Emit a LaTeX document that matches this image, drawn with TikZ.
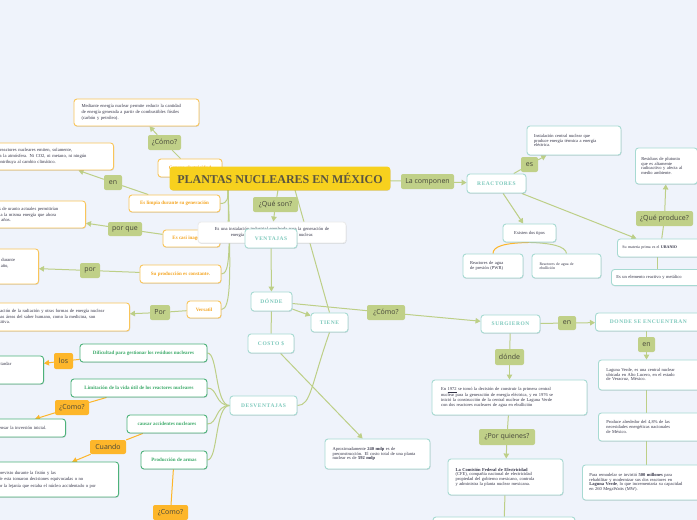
\documentclass[tikz,border=0pt]{standalone}
\usepackage{fontspec}
\setmainfont{Liberation Serif}
\newfontfamily\labfont{Open Sans}
\newfontfamily\capsfont[LetterSpace=10]{Liberation Serif}
\usetikzlibrary{arrows.meta,backgrounds,shadows}
\pgfdeclarelayer{bgfill}
\pgfsetlayers{bgfill,background,main}
\definecolor{bg}{HTML}{EFF3FB}
\definecolor{lineg}{HTML}{BDCF87}
\definecolor{labg}{HTML}{C0D088}
\definecolor{orab}{HTML}{F9C55A}
\definecolor{orat}{HTML}{F5A623}
\definecolor{oral}{HTML}{FDB62A}
\definecolor{tealb}{HTML}{A7DAD2}
\definecolor{tealt}{HTML}{7CC8BB}
\definecolor{greb}{HTML}{4DB27A}
\definecolor{gret}{HTML}{3DAA6A}
\definecolor{cen}{HTML}{F7D11E}
\definecolor{cent}{HTML}{5A5540}
\definecolor{txt}{HTML}{343447}
\definecolor{labt}{HTML}{46463A}
\begin{document}
\begin{tikzpicture}[x=1pt,y=-1pt,
  base/.style={rectangle, rounded corners=3pt, line width=0.9pt, fill=white, inner sep=0pt, align=center,
    drop shadow={shadow xshift=0.5pt, shadow yshift=-0.9pt, opacity=0.12, fill=black}},
  cenbox/.style={base, fill=cen, draw=cen, text=cent, font=\fontsize{12}{13}\selectfont\bfseries},
  obox/.style={base, draw=orab, text=orat, font=\fontsize{5}{6}\selectfont\bfseries},
  otxt/.style={base, draw=orab, text=txt, align=left, font=\fontsize{4.6}{5.7}\selectfont},
  tbox/.style={base, draw=tealb, text=tealt, font=\capsfont\fontsize{5.5}{6}\selectfont\bfseries},
  ttxt/.style={base, draw=tealb, text=txt, align=left, font=\fontsize{4.5}{4.7}\selectfont},
  ptxt/.style={base, draw=black!8, text=txt, align=center, font=\fontsize{4.6}{5.4}\selectfont},
  gbox/.style={base, draw=greb, text=gret, font=\fontsize{5}{6}\selectfont\bfseries},
  gtxt/.style={base, draw=greb, text=txt, align=left, font=\fontsize{4.6}{6.6}\selectfont},
  glab/.style={rectangle, rounded corners=2pt, fill=labg, text=labt, inner sep=0pt, font=\labfont\fontsize{7}{8}\selectfont},
  olab/.style={rectangle, rounded corners=2pt, fill=oral, text=labt, inner sep=0pt, font=\labfont\fontsize{7}{8}\selectfont},
  conn/.style={draw=lineg, line width=1pt},
  oconn/.style={draw=oral, line width=1pt},
  arr/.style={-{Triangle[length=5pt,width=5.5pt]}}
]
\begin{pgfonlayer}{bgfill}
\fill[bg] (0,0) rectangle (697,520);
\end{pgfonlayer}
\useasboundingbox (0,0) rectangle (697,520);
\clip (0,0) rectangle (697,520);

% ---- left (ventajas detail) ----
\node[obox, minimum width=64, minimum height=18] (genera) at (190,168) {Genera electricidad};
\node[cenbox, minimum width=220, minimum height=23] (central) at (280,178.5) {PLANTAS NUCLEARES EN MÉXICO};

\node[otxt, minimum width=125, minimum height=27, text width=110] (mediante) at (136.5,112.5) {Mediante energía nuclear permite reducir la cantidad\\ de energía generada a partir de combustibles fósiles\\ (carbón y petróleo).};
\node[glab, minimum width=33, minimum height=15] (como0) at (164.5,142.5) {¿Cómo?};

\node[otxt, anchor=east, minimum width=150, minimum height=27, text width=134] (b1) at (114,156.5) {Las plantas de reactores nucleares emiten, solamente,\\ vapor de agua a la atmósfera. Ni CO2, ni metano, ni ningún\\ otro gas que contribuya al cambio climático.};
\node[glab, minimum width=18, minimum height=15] (en1) at (113,182.5) {en};
\node[obox, minimum width=91, minimum height=17] (eslimpia) at (174.5,203.5) {Es limpia durante su generación};

\node[otxt, anchor=east, minimum width=116, minimum height=27, text width=100] (b2) at (86,214.5) {Las reservas de uranio actuales permitirían\\ producir toda la misma energía que ahora\\ durante 100 años.};
\node[glab, minimum width=34, minimum height=14] (porque) at (125,229) {por que};
\node[obox, minimum width=57, minimum height=17] (escasi) at (191.5,238.5) {Es casi inagotable};

\node[otxt, anchor=east, minimum width=120, minimum height=35, text width=104] (b3) at (39,266.5) {Genera electricidad de forma continua, durante\\ las 24 horas del día, todos los días del año,\\ sin interrupciones.};
\node[glab, minimum width=20, minimum height=15] (por1) at (90,270.5) {por};
\node[obox, minimum width=81, minimum height=18] (suprod) at (180.5,274) {Su producción es constante.};

\node[otxt, anchor=east, minimum width=153, minimum height=28, text width=137] (b4) at (130,317) {La utilización de la radiación y otras formas de energía nuclear\\ en muchas áreas del saber humano, como la medicina, son\\ muy positiva.};
\node[glab, minimum width=20, minimum height=15] (por2) at (160,312.5) {Por};
\node[obox, minimum width=34, minimum height=17] (versatil) at (204,309.5) {Versatil};

% ---- center ----
\node[glab, minimum width=45, minimum height=15] (queson) at (275.5,204.5) {¿Qué son?};
\node[ptxt, minimum width=148, minimum height=21, text width=140] (def) at (272,232.5) {Es una instalación industrial empleada para la generación de\\ energía eléctrica a partir de energía nuclear.};
\node[tbox, minimum width=52, minimum height=19] (ventajas) at (271,238.5) {VENTAJAS};
\node[tbox, minimum width=41, minimum height=19] (donde) at (271.5,301.5) {DÓNDE};
\node[tbox, minimum width=37, minimum height=19] (tiene) at (329.5,322.5) {TIENE};
\node[tbox, minimum width=46, minimum height=19] (costo) at (271,343.5) {COSTO \$};
\node[tbox, minimum width=67, minimum height=19] (desv) at (263.5,405.5) {DESVENTAJAS};
\node[glab, minimum width=38, minimum height=15] (como3) at (386,312.5) {¿Cómo?};
\node[tbox, minimum width=59, minimum height=18] (surg) at (510.5,324) {SURGIERON};
\node[glab, minimum width=18, minimum height=14] (en2) at (567,323) {en};
\node[tbox, anchor=west, minimum width=106, minimum height=18] (dse) at (595,322) {DONDE SE ENCUENTRAN};
\node[glab, minimum width=17, minimum height=15] (en3) at (646.5,344.5) {en};
\node[ttxt, anchor=west, minimum width=102, minimum height=30, text width=86] (laguna) at (598,375) {Laguna Verde, es una central nuclear\\ ubicada en Alto Lucero, en el estado\\ de Veracruz, México.};
\node[ttxt, anchor=west, minimum width=102, minimum height=28, text width=86] (produce) at (598,427) {Produce alrededor del 4,8\% de las\\ necesidades energéticas nacionales\\ de México.};
\node[ttxt, anchor=west, minimum width=130, minimum height=35, text width=116] (para) at (582,482.5) {Para remodelar se invirtió \textbf{500 millones} para\\ rehabilitar y modernizar sus dos reactores en\\ \textbf{Laguna Verde}, lo que incrementaría su capacidad\\ en 260 MegaWatts (MW).};
\node[glab, minimum width=29, minimum height=16] (donde2) at (509.5,357) {dónde};
\node[ttxt, minimum width=155, minimum height=35, text width=137] (e1972) at (509.5,397.5) {En \underline{1972} se tomó la decisión de construir la primera central\\ nuclear para la generación de energía eléctrica, y en 1976 se\\ inició la construcción de la central nuclear de Laguna Verde\\ con dos reactores nucleares de agua en ebullición};
\node[glab, minimum width=56, minimum height=16] (porq) at (507,437) {¿Por quienes?};
\node[ttxt, minimum width=115, minimum height=36, text width=100] (cfe) at (505.5,477) {\textbf{La Comisión Federal de Electricidad}\\ (CFE), compañía nacional de electricidad\\ propiedad del gobierno mexicano, controla\\ y administra la planta nuclear mexicana.};
\node[ttxt, minimum width=142, minimum height=20] (bottom) at (504,527) {};
\node[ttxt, minimum width=105, minimum height=30, text width=90] (aprox) at (377.5,454) {Aproximadamente \textbf{240 mdp} es de\\ preconstrucción. El costo total de una planta\\ nuclear es de \textbf{592 mdp}};

% ---- right upper ----
\node[glab, minimum width=53, minimum height=15] (lacomp) at (427.5,181.5) {La componen};
\node[tbox, minimum width=59, minimum height=19] (reactores) at (496.5,183.5) {REACTORES};
\node[glab, minimum width=17, minimum height=15] (es) at (529.5,164.5) {es};
\node[ttxt, minimum width=94, minimum height=29, text width=80] (instal) at (574,140.5) {Instalación central nuclear que\\ produce energía térmica a energía\\ eléctrica.};
\node[ttxt, align=center, minimum width=53, minimum height=18] (existen) at (529.5,233) {Existen dos tipos};
\node[ttxt, minimum width=60, minimum height=24, text width=46] (pwr) at (493,266) {Reactores de agua\\ de presión (PWR)};
\node[ttxt, minimum width=69, minimum height=24, text width=54, font=\fontsize{3.9}{4.6}\selectfont] (ebu) at (566.5,266) {Reactores de agua de\\ ebullición};
\node[ttxt, anchor=west, minimum width=86, minimum height=18, text width=76, font=\fontsize{4}{4.6}\selectfont] (materia) at (617,248) {Su materia prima es el \textbf{URANIO}};
\node[ttxt, anchor=west, minimum width=92, minimum height=16, text width=82] (elemento) at (611,277.5) {Es un elemento reactivo y metálico};
\node[glab, minimum width=57, minimum height=15] (qprod) at (664.5,218.5) {¿Qué produce?};
\node[ttxt, anchor=west, minimum width=62, minimum height=36, text width=50] (residuos) at (635,166) {Residuos de plutonio\\ que es altamente\\ radioactivo y afecta al\\ medio ambiente.};

% ---- desventajas ----
\node[gbox, minimum width=127, minimum height=18] (dif) at (143.5,353) {Dificultad para gestionar los residuos nucleares};
\node[olab, minimum width=19, minimum height=16] (los) at (63.5,361) {los};
\node[gtxt, anchor=east, minimum width=110, minimum height=28, text width=94, font=\fontsize{4.6}{5.6}\selectfont] (bl) at (44,370) {Los residuos nucleares pueden tardar\\ miles de años en perder su\\ radiactividad.};
\node[gbox, minimum width=136, minimum height=18] (limit) at (139,388) {Limitación de la vida útil de los reactores nucleares};
\node[olab, minimum width=34, minimum height=15] (como1) at (72,407.5) {¿Como?};
\node[gtxt, anchor=east, minimum width=144, minimum height=18, text width=130] (bc) at (66,428) {Se necesita mucho tiempo para compensar la inversión inicial.};
\node[gbox, minimum width=80, minimum height=18] (causar) at (167,424) {causar accidentes nucleares};
\node[olab, minimum width=36, minimum height=14] (cuando) at (108,447) {Cuando};
\node[gtxt, anchor=east, minimum width=161, minimum height=35, text width=145, font=\fontsize{4.6}{6.4}\selectfont] (bw) at (119,479.5) {Se produjo un imprevisto durante la fisión y las\\ personas a cargo de esta tomaron decisiones equivocadas o no\\ pudieron actuar por la lejanía que estaba el núcleo accidentado o por};
\node[gbox, minimum width=66, minimum height=18] (armas) at (174,460) {Producción de armas};
\node[olab, minimum width=35, minimum height=15] (como2) at (170.5,512.5) {¿Como?};

\coordinate (root) at (228,189);
\coordinate (c1) at (295,190);
\coordinate (t1) at (35,419);
\coordinate (t2) at (72,462);

\begin{scope}[on background layer]
% trunk to ventajas items
\draw[conn] (root) .. controls (228,198) and (228,203.5) .. (eslimpia.east);
\draw[conn] (root) .. controls (229,222) and (229,238.5) .. (escasi.east);
\draw[conn] (root) .. controls (230,250) and (230,274) .. (suprod.east);
\draw[conn] (root) .. controls (231,275) and (231,309.5) .. (versatil.east);
\draw[conn] (genera) -- (como0);
\draw[conn,arr] (como0) -- (mediante);
\draw[conn] (eslimpia) -- (en1);
\draw[conn,arr] (en1) -- (b1);
\draw[conn] (escasi) -- (porque);
\draw[conn,arr] (porque) -- (b2);
\draw[conn] (suprod) -- (por1);
\draw[conn,arr] (por1) -- (b3);
\draw[conn] (versatil) -- (por2);
\draw[conn,arr] (por2) -- (b4);
% center
\draw[conn] (central) -- (queson);
\draw[conn,arr] (queson) -- (def);
\draw[conn] (c1) -- (tiene.north);
\draw[conn,arr] (ventajas) -- (donde);
\draw[conn,arr] (donde) -- (tiene);
\draw[conn] (donde) -- (costo);
\draw[conn] (donde) -- (como3);
\draw[conn,arr] (como3) -- (surg);
\draw[conn,arr] (costo) -- (aprox);
\draw[conn] (tiene.south) .. controls (311,385) and (311,405.5) .. (desv.east);
\draw[conn] (surg) -- (en2);
\draw[conn,arr] (en2) -- (dse);
\draw[conn] (dse.south -| en3) -- (en3);
\draw[conn,arr] (en3) -- (laguna.north -| en3);
\draw[conn] (laguna.south -| en3) -- (produce.north -| en3);
\draw[conn] (produce.south -| en3) -- (para.north -| en3);
\draw[conn] (surg) -- (donde2);
\draw[conn,arr] (donde2) -- (e1972);
\draw[conn] (e1972) -- (porq);
\draw[conn,arr] (porq) -- (cfe);
\draw[conn] (cfe) -- (bottom);
% right upper
\draw[conn] (central) -- (lacomp);
\draw[conn,arr] (lacomp) -- (reactores);
\draw[conn] (reactores) -- (es);
\draw[conn,arr] (es) -- (instal);
\draw[conn,arr] (reactores) -- (existen);
\draw[oconn] (existen.south) .. controls (505,243) and (493,246) .. (pwr.north);
\draw[conn] (existen.south) .. controls (550,243) and (566,246) .. (ebu.north);
\draw[conn,arr] (reactores) -- (materia);
\draw[conn] (materia) -- (qprod);
\draw[conn,arr] (qprod) -- (residuos);
\draw[conn] (materia.south -| elemento) -- (elemento);
% desventajas
\draw[conn] (desv.west) .. controls (215,405.5) and (218,353) .. (dif.east);
\draw[conn] (desv.west) .. controls (215,405.5) and (218,388) .. (limit.east);
\draw[conn] (desv.west) .. controls (215,405.5) and (218,424) .. (causar.east);
\draw[conn] (desv.west) .. controls (215,405.5) and (218,460) .. (armas.east);
\draw[oconn] (dif) -- (los);
\draw[oconn,arr] (los) -- (bl);
\draw[oconn] (limit) -- (como1);
\draw[oconn,arr] (como1) -- (t1);
\draw[oconn] (causar) -- (cuando);
\draw[oconn,arr] (cuando) -- (t2);
\draw[oconn] (armas) -- (como2);
\end{scope}
\end{tikzpicture}
\end{document}
